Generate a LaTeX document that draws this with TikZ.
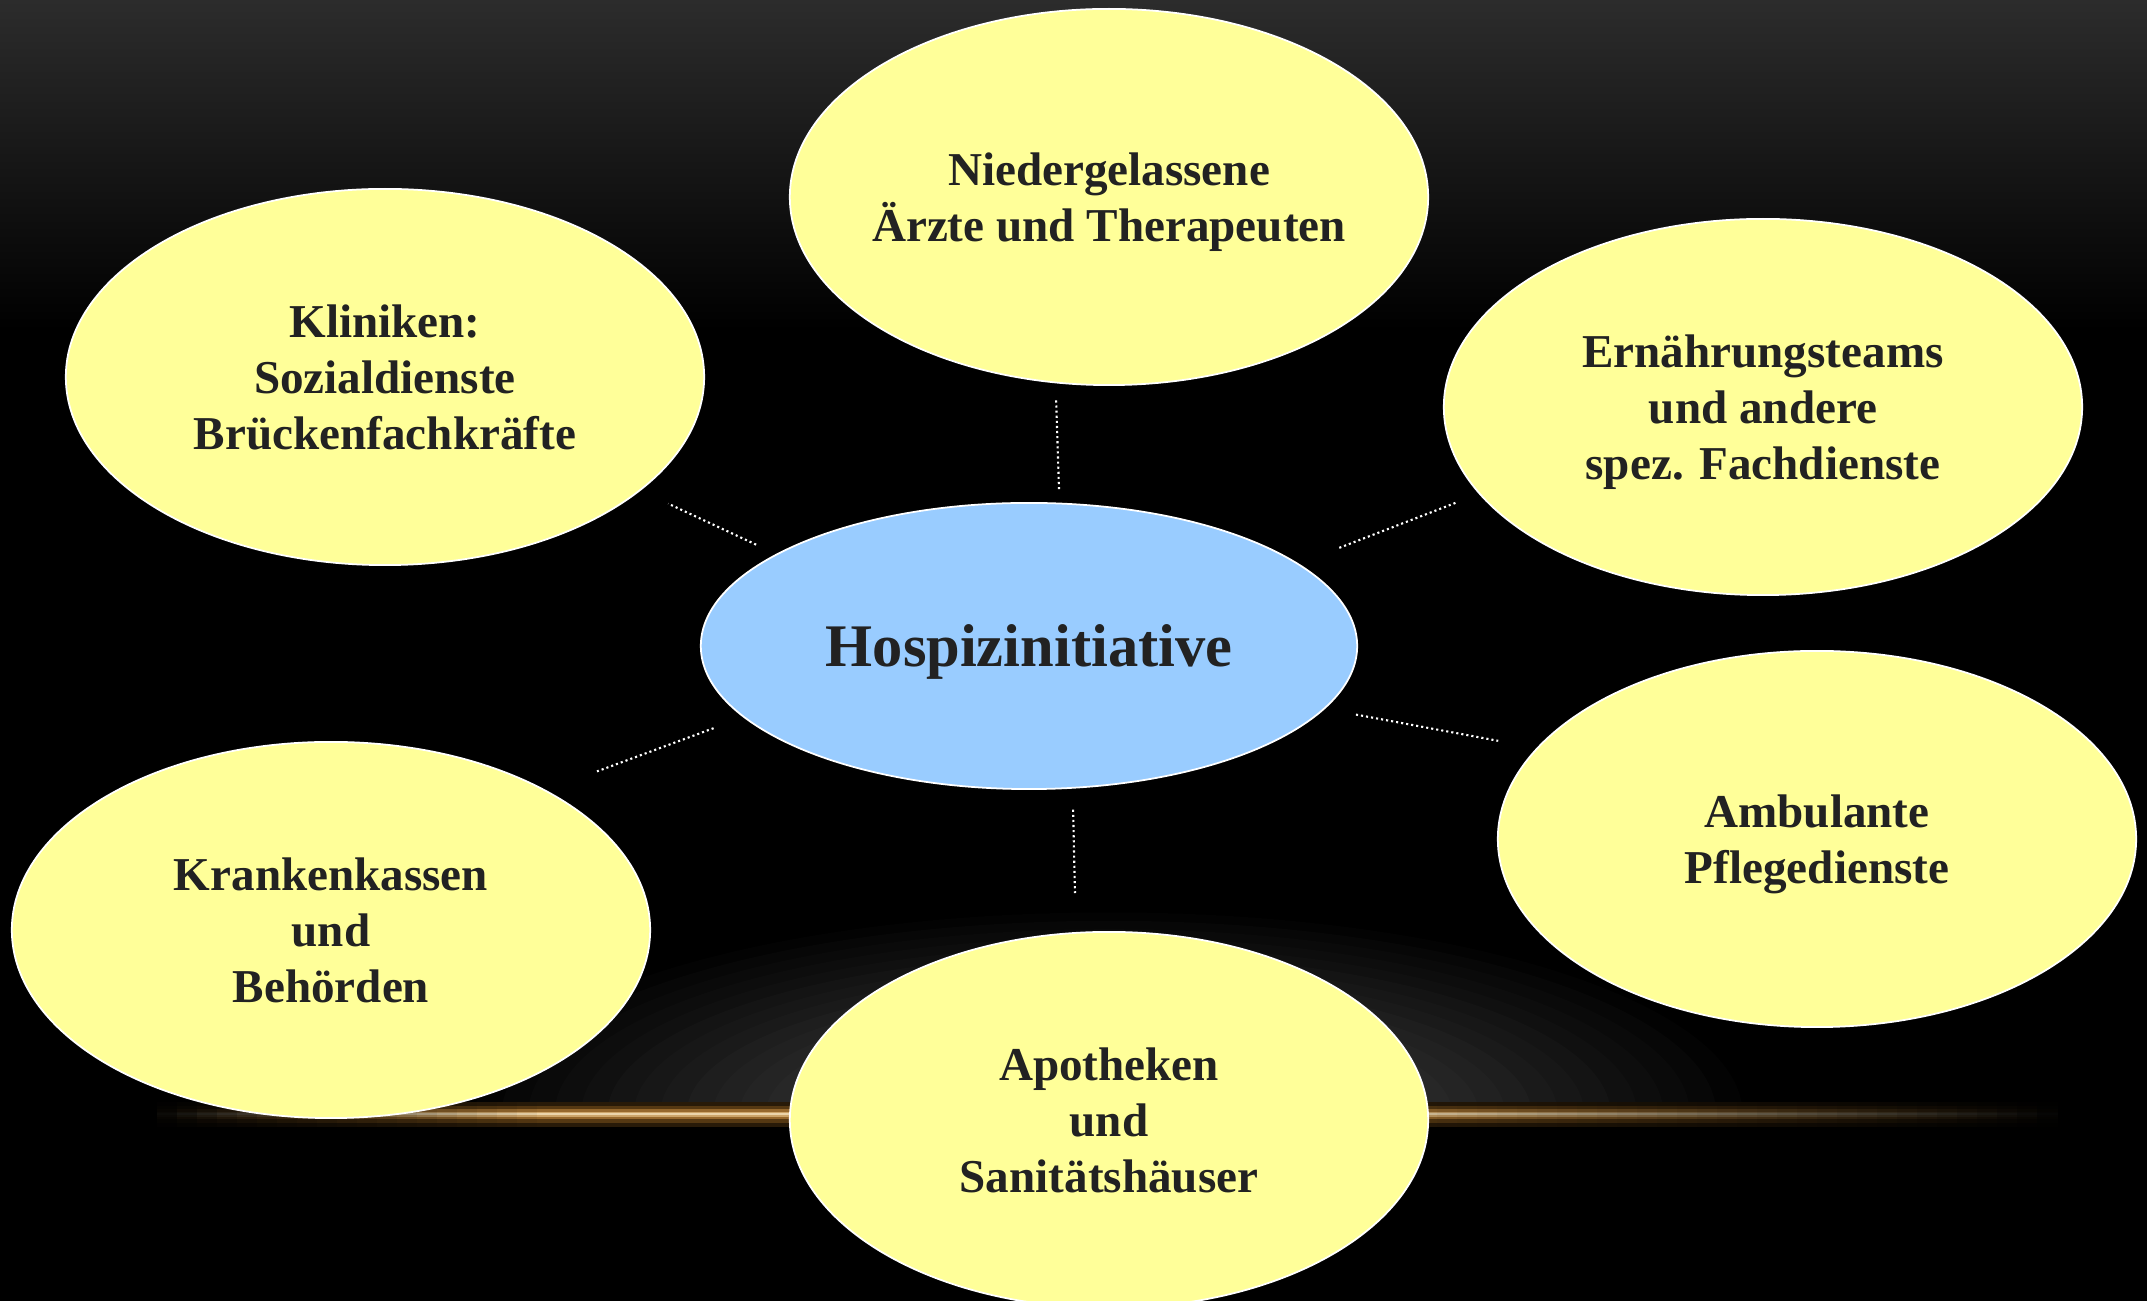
\documentclass[tikz,border=0pt]{standalone}
\usepackage{fontspec}
\setmainfont{Liberation Serif}
\usetikzlibrary{shapes.geometric}
\definecolor{partnerColor}{RGB}{255,255,153}
\definecolor{hubColor}{RGB}{153,204,255}
\definecolor{labelColor}{RGB}{34,34,34}
\definecolor{topGray}{RGB}{44,44,44}
\definecolor{glowGray}{RGB}{82,82,82}
\definecolor{flareHalo}{RGB}{40,26,8}
\definecolor{flareDark}{RGB}{85,56,18}
\definecolor{flareMid}{RGB}{150,104,44}
\definecolor{flareLight}{RGB}{205,165,105}
\definecolor{flareCore}{RGB}{235,212,170}
\tikzstyle{slide} = [x = .01cm, y = -.01cm]
\tikzstyle{partnerStyle} = [ellipse, draw=white, line width=.5pt, fill=partnerColor, minimum width=6.38cm, minimum height=3.76cm, inner xsep=-6mm, inner ysep=0pt, text depth=0pt, align=center, text=labelColor, font=\fontsize{13.4}{15.9}\selectfont\bfseries]
\tikzstyle{hubStyle} = [partnerStyle, fill=hubColor, minimum width=6.56cm, minimum height=2.86cm, font=\fontsize{17.2}{20}\selectfont\bfseries]
\tikzstyle{linkStyle} = [white, line width=.6pt, dash pattern=on .6pt off .85pt]
\newcommand{\partner}[4]{\node [partnerStyle] (#1) at (#2, #3) {#4};}
\newcommand{\link}[6]{\draw [linkStyle, shorten < = #3, shorten > = #6] (#1.#2) -- (#4.#5);}

\begin{document}
\begin{tikzpicture}[slide]
  \useasboundingbox (0, 0) rectangle (2147, 1301);
  \clip (0, 0) rectangle (2147, 1301);
  \fill [black] (0, 0) rectangle (2147, 1301);
  \shade [top color=topGray, bottom color=black] (0, 0) rectangle (2147, 330);

  % glow above the horizon line
  \begin{scope}
    \clip (0, 850) rectangle (2147, 1114);
    \foreach \ring in {0,...,24} {
      \pgfmathsetmacro{\ringScale}{1 - \ring / 25}
      \pgfmathsetmacro{\ringShade}{4 * \ring}
      \fill [glowGray!\ringShade!black] (1109, 1114) ellipse ({660 * \ringScale} and {210 * \ringScale});
    }
  \end{scope}

  % horizon line
  \foreach \seg in {0,...,95} {
    \pgfmathsetmacro{\segX}{137 + 20 * \seg}
    \pgfmathsetmacro{\segGlow}{100 * max(0, min(1, min((\segX - 137) / 400, (2057 - \segX) / 750)))}
    \fill [flareHalo!\segGlow!black] (\segX, 1102) rectangle +(20.5, 25);
    \fill [flareDark!\segGlow!black] (\segX, 1106) rectangle +(20.5, 17);
    \fill [flareMid!\segGlow!black] (\segX, 1109.5) rectangle +(20.5, 10);
    \fill [flareLight!\segGlow!black] (\segX, 1112) rectangle +(20.5, 5);
    \fill [flareCore!\segGlow!black] (\segX, 1113.5) rectangle +(20.5, 2);
  }

  \node [hubStyle] (hub) at (1029, 646) {Hospizinitiative};

  \partner{doctors}{1109}{197}{Niedergelassene\\Ärzte und Therapeuten}
  \partner{clinics}{385}{377}{Kliniken:\\Sozialdienste\\Brückenfachkräfte}
  \partner{nutrition}{1763}{407}{Ernährungsteams\\und andere\\spez. Fachdienste}
  \partner{nursing}{1817}{839}{Ambulante\\Pflegedienste}
  \partner{insurers}{331}{930}{Krankenkassen\\und\\Behörden}
  \partner{pharmacies}{1109}{1120}{Apotheken\\und\\Sanitätshäuser}

  \link{hub}{78.9}{1.35mm}{doctors}{254.3}{1.55mm}
  \link{hub}{160.85}{2.2mm}{clinics}{336.1}{3.05mm}
  \link{hub}{17.1}{4.35mm}{nutrition}{197.7}{2.5mm}
  \link{hub}{348.5}{3.15mm}{nursing}{162.4}{3.9mm}
  \link{hub}{194.3}{3.15mm}{insurers}{33.0}{5.4mm}
  \link{hub}{287.3}{2.1mm}{pharmacies}{100.8}{3.9mm}
\end{tikzpicture}
\end{document}
